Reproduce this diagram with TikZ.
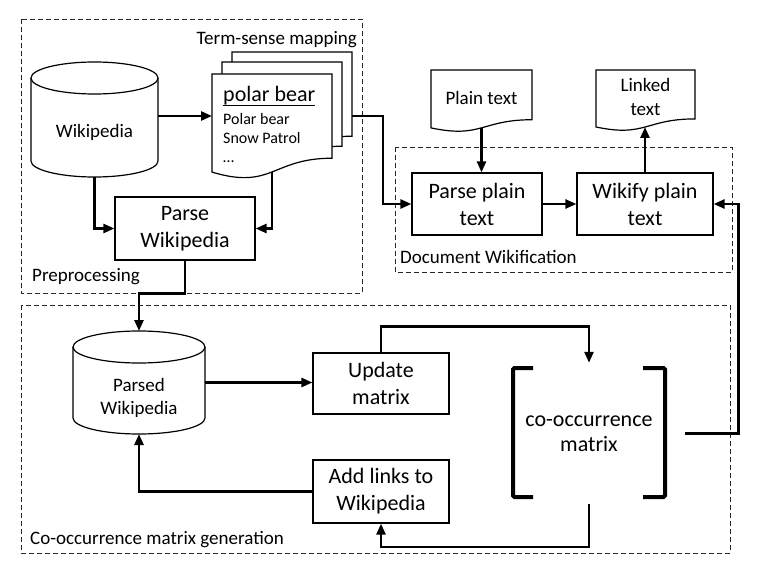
\documentclass[tikz,border=0pt]{standalone}
\usepackage{fontspec}
\setmainfont{Carlito}
\usetikzlibrary{arrows.meta,calc}
\newcommand\docshape[4]{\draw[line width=1.2pt, fill=white] (#1,#2) -- ({#1+#3},#2) -- ({#1+#3},{#2+0.802*#4}) .. controls ({#1+0.5*#3},{#2+0.802*#4}) and ({#1+0.5*#3},{#2+1.107*#4}) .. (#1,{#2+0.934*#4}) -- cycle;}
\begin{document}
\begin{tikzpicture}[x=1pt,y=-1pt,
  procbox/.style={draw=black, line width=1.2pt, fill=white, align=center, inner sep=0pt,
    font=\fontsize{22}{27}\selectfont},
  ghost/.style={inner sep=0pt, outer sep=0pt},
  conn/.style={line width=2.5pt, -{Triangle[length=11pt,width=9pt]}},
  sec/.style={draw=black!85, dash pattern=on 5pt off 3pt, line width=0.9pt},
  lbl/.style={inner sep=0pt, font=\fontsize{19}{24}\selectfont},
  small/.style={inner sep=0pt, font=\fontsize{16}{19}\selectfont}]
\useasboundingbox (0,0) rectangle (757,580);

% section frames
\draw[sec] (21,19) rectangle (362,293);
\draw[sec] (395,147) rectangle (732,272);
\draw[sec] (21,305) rectangle (730,553);
\node[lbl, anchor=east] (lterm) at (357,40) {Term-sense mapping};
\node[lbl, anchor=west] (lpre) at (32,277) {Preprocessing};
\node[lbl, anchor=west] (ldoc) at (400,257) {Document Wikification};
\node[lbl, anchor=west] (lco) at (30,540) {Co-occurrence matrix generation};

% Wikipedia cylinder
\draw[line width=1.2pt, fill=white] (31,78) -- (31,161) arc[start angle=180, end angle=360, x radius=63.5pt, y radius=16pt] -- (158,78) arc[start angle=0, end angle=180, x radius=63.5pt, y radius=16pt] -- cycle;
\draw[line width=1.2pt] (31,78) arc[start angle=180, end angle=360, x radius=63.5pt, y radius=16pt];
\node[ghost, minimum width=127pt, minimum height=115pt] (wiki) at (94.5,119.5) {};
\node[lbl] (wikit) at (94.5,132) {Wikipedia};

% term-sense documents
\docshape{232}{52}{120}{105}
\docshape{222}{62}{120}{105}
\docshape{212}{74}{120}{105}
\node[ghost, minimum width=120pt, minimum height=98pt] (back) at (292,100) {};
\node[ghost, minimum width=120pt, minimum height=98pt] (front) at (272,123) {};
\node[inner sep=0pt, anchor=west, font=\fontsize{22}{26}\selectfont] (pb) at (223,96) {polar bear};
\draw[line width=1pt] (223,106) -- (315,106);
\node[small, anchor=west] (pb1) at (223,119) {Polar bear};
\node[small, anchor=west] (pb2) at (223,138) {Snow Patrol};
\node[small, anchor=west] (pb3) at (223,162) {…};

% Parse Wikipedia
\node[procbox, minimum width=140pt, minimum height=63pt] (parsewiki) at (185,228.5) {Parse\\Wikipedia};

% Parsed Wikipedia cylinder
\draw[line width=1.2pt, fill=white] (73,347) -- (73,418) arc[start angle=180, end angle=360, x radius=66pt, y radius=16pt] -- (205,347) arc[start angle=0, end angle=180, x radius=66pt, y radius=16pt] -- cycle;
\draw[line width=1.2pt] (73,347) arc[start angle=180, end angle=360, x radius=66pt, y radius=16pt];
\node[ghost, minimum width=132pt, minimum height=103pt] (parsed) at (139,382.5) {};
\node[lbl, align=center, font=\fontsize{19}{23}\selectfont] (parsedt) at (139,398) {Parsed\\Wikipedia};

% process boxes
\node[procbox, minimum width=136pt, minimum height=61pt] (update) at (381,383.5) {Update\\matrix};
\node[procbox, minimum width=136pt, minimum height=63pt] (addlinks) at (381,491.5) {Add links to\\Wikipedia};
\node[procbox, minimum width=130pt, minimum height=62pt] (parseplain) at (477,204) {Parse plain\\text};
\node[procbox, minimum width=136pt, minimum height=62pt] (wikify) at (645,204) {Wikify plain\\text};

% co-occurrence matrix
\draw[line width=4pt, rounded corners=1.5pt] (533,368) -- (513,368) -- (513,497) -- (533,497);
\draw[line width=4pt, rounded corners=1.5pt] (643,368) -- (665,368) -- (665,497) -- (643,497);
\node[inner sep=0pt, minimum width=152pt, minimum height=141pt, align=center,
  font=\fontsize{22}{25}\selectfont] (cmat) at (589,433.5) {co-occurrence\\matrix};

% plain / linked text documents
\docshape{431}{70}{101}{62}
\node[ghost, minimum width=101pt, minimum height=58pt] (plain) at (481.5,99) {};
\node[lbl] (plaint) at (481.5,98) {Plain text};
\docshape{596}{70}{99}{61}
\node[ghost, minimum width=99pt, minimum height=57pt] (linked) at (645.5,98.5) {};
\node[lbl, align=center] (linkedt) at (645.5,97) {Linked\\text};

% connectors
\draw[conn] (wiki.east |- 0,116) -- (front.west |- 0,116);
\draw[conn] (back.east |- 0,116) -- (383,116) |- (parseplain.west);
\draw[conn] (wiki.south) |- (parsewiki.west);
\draw[conn] (front.south) |- (parsewiki.east);
\draw[conn] (parsewiki.south) -- ++(0,33) -| (parsed.north);
\draw[conn] (parsed.east) -- (parsed.east -| update.west);
\draw[conn] (update.north) -- ++(0,-26) -| (cmat.north);
\draw[conn] (cmat.south) -- ++(0,43) -| (addlinks.south);
\draw[conn] (addlinks.west) -| (parsed.south);
\draw[conn] ([xshift=20pt]cmat.east) -| ($(wikify.east)+(25,0)$) -- (wikify.east);
\draw[conn] (plain.south) -- (plain.south |- parseplain.north);
\draw[conn] (parseplain.east) -- (parseplain.east -| wikify.west);
\draw[conn] (wikify.north) -- (wikify.north |- linked.south);
\end{tikzpicture}
\end{document}
